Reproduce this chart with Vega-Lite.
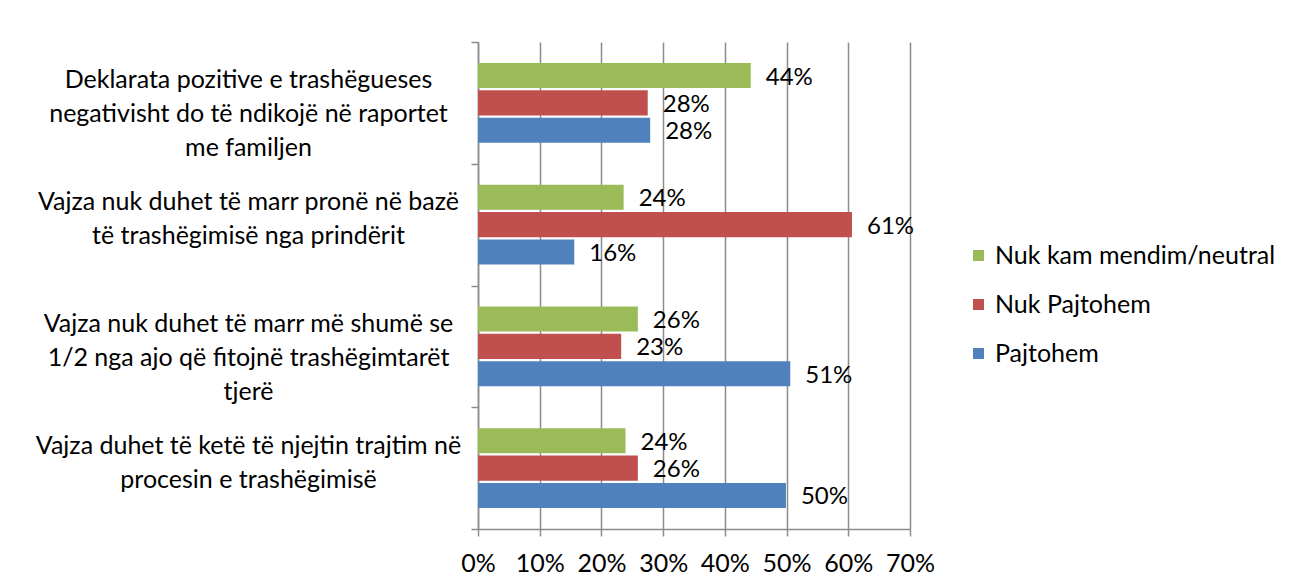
{
  "$schema": "https://vega.github.io/schema/vega-lite/v6.json",
  "width": 432,
  "height": 487,
  "autosize": {"type": "none"},
  "padding": {"left": 478, "top": 42, "right": 397, "bottom": 58},
  "background": "white",
  "config": {"view": {"stroke": null}, "font": "Lato", "text": {"font": "Lato"}},
  "data": {
    "values": [
      {"q": "Deklarata pozitive e trashëgueses negativisht do të ndikojë në raportet me familjen", "s": "Nuk kam mendim/neutral", "v": 0.442},
      {"q": "Deklarata pozitive e trashëgueses negativisht do të ndikojë në raportet me familjen", "s": "Nuk Pajtohem", "v": 0.275},
      {"q": "Deklarata pozitive e trashëgueses negativisht do të ndikojë në raportet me familjen", "s": "Pajtohem", "v": 0.279},
      {"q": "Vajza nuk duhet të marr pronë në bazë të trashëgimisë nga prindërit", "s": "Nuk kam mendim/neutral", "v": 0.236},
      {"q": "Vajza nuk duhet të marr pronë në bazë të trashëgimisë nga prindërit", "s": "Nuk Pajtohem", "v": 0.606},
      {"q": "Vajza nuk duhet të marr pronë në bazë të trashëgimisë nga prindërit", "s": "Pajtohem", "v": 0.156},
      {"q": "Vajza nuk duhet të marr më shumë se 1/2 nga ajo që fitojnë trashëgimtarët tjerë", "s": "Nuk kam mendim/neutral", "v": 0.259},
      {"q": "Vajza nuk duhet të marr më shumë se 1/2 nga ajo që fitojnë trashëgimtarët tjerë", "s": "Nuk Pajtohem", "v": 0.232},
      {"q": "Vajza nuk duhet të marr më shumë se 1/2 nga ajo që fitojnë trashëgimtarët tjerë", "s": "Pajtohem", "v": 0.506},
      {"q": "Vajza duhet të ketë të njejtin trajtim në procesin e trashëgimisë", "s": "Nuk kam mendim/neutral", "v": 0.239},
      {"q": "Vajza duhet të ketë të njejtin trajtim në procesin e trashëgimisë", "s": "Nuk Pajtohem", "v": 0.259},
      {"q": "Vajza duhet të ketë të njejtin trajtim në procesin e trashëgimisë", "s": "Pajtohem", "v": 0.499}
    ]
  },
  "encoding": {
    "y": {
      "field": "q",
      "type": "nominal",
      "sort": [
        "Deklarata pozitive e trashëgueses negativisht do të ndikojë në raportet me familjen",
        "Vajza nuk duhet të marr pronë në bazë të trashëgimisë nga prindërit",
        "Vajza nuk duhet të marr më shumë se 1/2 nga ajo që fitojnë trashëgimtarët tjerë",
        "Vajza duhet të ketë të njejtin trajtim në procesin e trashëgimisë"
      ],
      "scale": {"paddingInner": 0, "paddingOuter": 0},
      "axis": {
        "title": null,
        "grid": false,
        "domain": true,
        "domainColor": "#8c8c8c",
        "domainWidth": 1.5,
        "ticks": true,
        "tickBand": "extent",
        "tickSize": 7,
        "tickColor": "#8c8c8c",
        "tickWidth": 1.5,
        "labelAlign": "center",
        "labelBaseline": "middle",
        "labelPadding": 223,
        "labelFontSize": 25,
        "labelColor": "#000000",
        "labelLineHeight": 34,
        "labelLimit": 500,
        "labelOffset": -23,
        "labelExpr": "{'Deklarata pozitive e trashëgueses negativisht do të ndikojë në raportet me familjen': ['Deklarata pozitive e trashëgueses', 'negativisht do të ndikojë në raportet', 'me familjen'], 'Vajza nuk duhet të marr pronë në bazë të trashëgimisë nga prindërit': ['Vajza nuk duhet të marr pronë në bazë', 'të trashëgimisë nga prindërit'], 'Vajza nuk duhet të marr më shumë se 1/2 nga ajo që fitojnë trashëgimtarët tjerë': ['Vajza nuk duhet të marr më shumë se', '1/2 nga ajo që fitojnë trashëgimtarët', 'tjerë'], 'Vajza duhet të ketë të njejtin trajtim në procesin e trashëgimisë': ['Vajza duhet të ketë të njejtin trajtim në', 'procesin e trashëgimisë']}[datum.value]"
      }
    },
    "yOffset": {
      "field": "s",
      "type": "nominal",
      "sort": ["Nuk kam mendim/neutral", "Nuk Pajtohem", "Pajtohem"],
      "scale": {"paddingInner": 0.085, "paddingOuter": 0.77}
    },
    "x": {
      "field": "v",
      "type": "quantitative",
      "scale": {"domain": [0, 0.7], "nice": false},
      "axis": {
        "title": null,
        "values": [0, 0.1, 0.2, 0.3, 0.4, 0.5, 0.6, 0.7],
        "format": ".0%",
        "grid": true,
        "gridColor": "#8c8c8c",
        "gridWidth": 1.5,
        "domain": true,
        "domainColor": "#8c8c8c",
        "domainWidth": 1.5,
        "ticks": true,
        "tickSize": 7,
        "tickColor": "#8c8c8c",
        "tickWidth": 1.5,
        "labelFontSize": 25,
        "labelColor": "#000000",
        "labelPadding": 15,
        "labelFlush": false
      }
    }
  },
  "layer": [
    {
      "mark": {"type": "bar"},
      "encoding": {
        "color": {
          "field": "s",
          "type": "nominal",
          "scale": {
            "domain": ["Nuk kam mendim/neutral", "Nuk Pajtohem", "Pajtohem"],
            "range": ["#9BBB59", "#C0504D", "#4F81BD"]
          },
          "legend": {
            "orient": "none",
            "legendX": 488,
            "legendY": 201,
            "title": null,
            "symbolType": "square",
            "symbolSize": 121,
            "symbolStrokeWidth": 0,
            "labelFontSize": 25,
            "labelColor": "#000000",
            "labelLimit": 500,
            "rowPadding": 23,
            "labelOffset": 4
          }
        }
      }
    },
    {
      "mark": {"type": "text", "align": "left", "baseline": "middle", "dx": 15, "dy": 2, "fontSize": 24, "color": "#000000"},
      "encoding": {
        "text": {"field": "v", "type": "quantitative", "format": ".0%"}
      }
    }
  ]
}
